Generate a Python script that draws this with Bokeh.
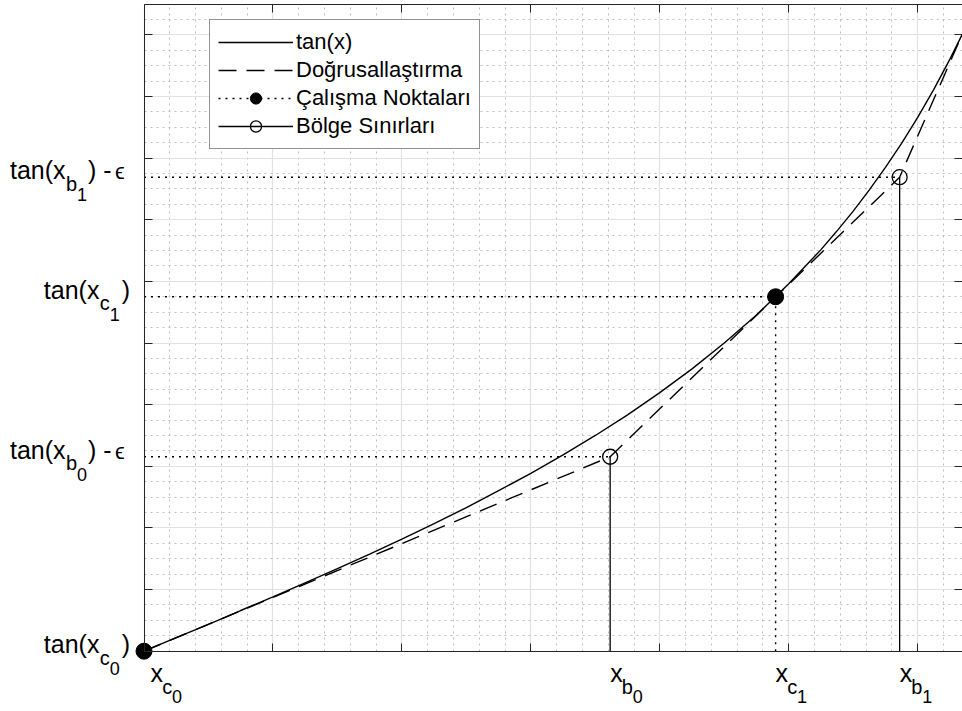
from bokeh.plotting import figure
from bokeh.models import FixedTicker, LinearAxis, Range1d, Label, Legend, LegendItem, BoxAnnotation, Grid
from bokeh.embed import file_html
from bokeh.resources import INLINE

# ---------------- data (x in degrees) ----------------
curve_x = [0.0, 2.5, 5.0, 7.5, 10.0, 12.5, 15.0, 17.5, 20.0, 22.5, 25.0, 27.5, 30.0,
           32.5, 35.0, 37.5, 40.0, 42.5, 45.0, 47.5, 50.0, 52.5, 53.75, 55.0, 56.25,
           57.5, 58.75, 60.0, 61.25, 62.5, 63.435]
curve_y = [0.0, 0.044, 0.087, 0.132, 0.176, 0.222, 0.268, 0.315, 0.364, 0.414, 0.466,
           0.521, 0.577, 0.637, 0.700, 0.767, 0.839, 0.916, 1.000, 1.091, 1.192, 1.303,
           1.364, 1.428, 1.497, 1.570, 1.648, 1.732, 1.823, 1.921, 2.000]

lin_x = [0.0, 36.15, 58.6, 63.435]
lin_y = [0.0, 0.631, 1.538, 2.000]

op_x = [0.0, 48.98]      # calisma noktalari
op_y = [0.0, 1.150]
bnd_x = [36.15, 58.6]    # bolge sinirlari
bnd_y = [0.631, 1.538]

x_major = [0, 10, 20, 30, 40, 50, 60]
x_minor = [2, 4, 6, 8, 12, 14, 16, 18, 22, 24, 26, 28, 32, 34, 36, 38, 42, 44, 46, 48,
           52, 54, 56, 58, 62]
y_major = [0.0, 0.2, 0.4, 0.6, 0.8, 1.0, 1.2, 1.4, 1.6, 1.8, 2.0]
y_minor = [0.05, 0.1, 0.15, 0.25, 0.3, 0.35, 0.45, 0.5, 0.55, 0.65, 0.7, 0.75, 0.85, 0.9,
           0.95, 1.05, 1.1, 1.15, 1.25, 1.3, 1.35, 1.45, 1.5, 1.55, 1.65, 1.7, 1.75, 1.85,
           1.9, 1.95, 2.05]

tick_sub = ["c", "b", "c", "b"]
tick_subsub = ["0", "0", "1", "1"]
tick_x = [op_x[0], bnd_x[0], op_x[1], bnd_x[1]]
tick_y = [op_y[0], bnd_y[0], op_y[1], bnd_y[1]]
tick_y_suffix = ["", "\u03f5", "", "\u03f5"]

legend_labels = ["tan(x)", "Do\u011frusalla\u015ft\u0131rma", "\u00c7al\u0131\u015fma Noktalar\u0131",
                 "B\u00f6lge S\u0131n\u0131rlar\u0131"]

# ---------------- geometry ----------------
W, H = 962, 711
X0PX, XEPX = 143.5, 961.5     # axes box left / right (px)
Y0PX, YTPX = 650.7, 3.5       # axes box bottom / top (px)
X_END, Y_TOP = 63.435, 2.1
PPX = (XEPX - X0PX) / X_END
PPY = (Y0PX - YTPX) / Y_TOP


def fx(X):
    return (X - X0PX) / PPX


def fy(Y):
    return (Y0PX - Y) / PPY


def px(x):
    return X0PX + x * PPX


def py(y):
    return Y0PX - y * PPY


FONT = "Liberation Sans"
AX = "#262626"

p = figure(width=W, height=H, x_range=Range1d(fx(0), fx(W)), y_range=Range1d(fy(H), fy(0)),
           output_backend="svg", toolbar_location=None, min_border=0,
           background_fill_color="white", border_fill_color="white")
p.outline_line_color = None

xt = FixedTicker(ticks=x_major, minor_ticks=x_minor)
yt = FixedTicker(ticks=y_major, minor_ticks=y_minor)

bx = p.xaxis[0]
ly = p.yaxis[0]
bx.ticker = xt
ly.ticker = yt
bx.fixed_location = 0.0
ly.fixed_location = 0.0
top_ax = LinearAxis(ticker=xt, fixed_location=Y_TOP)
right_ax = LinearAxis(ticker=yt, fixed_location=X_END)
p.add_layout(top_ax, "above")
p.add_layout(right_ax, "right")

for ax, b in ((bx, (0, X_END)), (top_ax, (0, X_END)), (ly, (0, Y_TOP)), (right_ax, (0, Y_TOP))):
    ax.bounds = b
    ax.major_tick_in = 8
    ax.major_tick_out = 0
    ax.minor_tick_line_color = None
    ax.major_label_text_color = None
    ax.axis_line_color = AX
    ax.axis_line_width = 1
    ax.major_tick_line_color = AX
    ax.major_tick_line_width = 1

xg = p.xgrid[0]
yg = p.ygrid[0]
xg.ticker = xt
yg.ticker = yt
has_cb = "cross_bounds" in Grid.properties()
for g, cb in ((xg, (0, Y_TOP)), (yg, (0, X_END))):
    g.grid_line_color = "#e2e2e2"
    g.grid_line_width = 1.2
    g.minor_grid_line_color = "#bfbfbf"
    g.minor_grid_line_dash = "2 4"
    g.minor_grid_line_width = 1
    if has_cb:
        g.cross_bounds = cb
if not has_cb:
    for kw in (dict(right=0.0), dict(left=X_END), dict(top=0.0), dict(bottom=Y_TOP)):
        p.add_layout(BoxAnnotation(fill_color="white", fill_alpha=1, line_color=None,
                                   level="underlay", **kw))

# ---------------- glyphs ----------------
r_curve = p.line(curve_x, curve_y, line_color="black", line_width=1.4)
r_lin = p.line(lin_x, lin_y, line_color="black", line_width=1.4, line_dash="18 10")

pts_x = op_x + bnd_x
pts_y = op_y + bnd_y
r_h = p.segment(x0=[0.0] * len(pts_x), y0=pts_y, x1=pts_x, y1=pts_y,
                line_color="black", line_width=1.4, line_dash="2 5")
r_vop = p.segment(x0=op_x, y0=[0.0] * len(op_x), x1=op_x, y1=op_y,
                  line_color="black", line_width=1.4, line_dash="2 5")
r_vb = p.segment(x0=bnd_x, y0=[0.0] * len(bnd_x), x1=bnd_x, y1=bnd_y,
                 line_color="black", line_width=1.3)
r_op = p.scatter(op_x, op_y, size=16, marker="circle", fill_color="black", line_color="black")
r_b = p.scatter(bnd_x, bnd_y, size=15, marker="circle", fill_color=None, line_color="black",
                line_width=1.3)


# ---------------- tick labels made of text pieces ----------------
# pieces are placed by their alphabetic baseline (B); the label box is anchored at its
# vertical middle, which lies about 0.35 em above the baseline
def txt(X, B, text, size):
    p.add_layout(Label(x=fx(X), y=fy(B - 0.35 * size), text=text, text_font=FONT,
                       text_font_size=f"{size}px", text_color="black",
                       text_align="left", text_baseline="middle"))


MAIN, SUB, SUBSUB = 25, 20, 18
for i in range(4):
    w = 11.0 if tick_sub[i] == "b" else 10.0
    # x labels
    Xt = px(tick_x[i]) + (6.5 if i == 0 else 0.0)
    txt(Xt, Y0PX + 31, "x", MAIN)
    txt(Xt + 11.7, Y0PX + 42.3, tick_sub[i], SUB)
    txt(Xt + 11.5 + w, Y0PX + 52, tick_subsub[i], SUBSUB)
    # y labels
    Yt = py(tick_y[i])
    S = 9.5 if tick_y_suffix[i] else 43.3
    txt(S, Yt + 2, "tan(x", MAIN)
    txt(S + 56, Yt + 13.5, tick_sub[i], SUB)
    txt(S + 56 + w, Yt + 24, tick_subsub[i], SUBSUB)
    txt(S + 78, Yt + 2, ") -" if tick_y_suffix[i] else ")", MAIN)
    if tick_y_suffix[i]:
        txt(S + 105, Yt + 2, tick_y_suffix[i], 22)

# ---------------- legend ----------------
legend = Legend(items=[
    LegendItem(label=legend_labels[0], renderers=[r_curve]),
    LegendItem(label=legend_labels[1], renderers=[r_lin]),
    LegendItem(label=legend_labels[2], renderers=[r_vop, r_op]),
    LegendItem(label=legend_labels[3], renderers=[r_vb, r_b]),
], location=(209, H - 149))
legend.label_text_font = FONT
legend.label_text_font_size = "22px"
legend.label_text_color = "black"
legend.glyph_width = 75
legend.glyph_height = 28
legend.label_height = 28
legend.spacing = 0
legend.padding = 8
legend.margin = 0
legend.label_standoff = 3
legend.border_line_color = AX
legend.border_line_width = 1
legend.background_fill_color = "white"
legend.background_fill_alpha = 1
p.add_layout(legend, "center")

open("out.html", "w").write(file_html(p, INLINE))
